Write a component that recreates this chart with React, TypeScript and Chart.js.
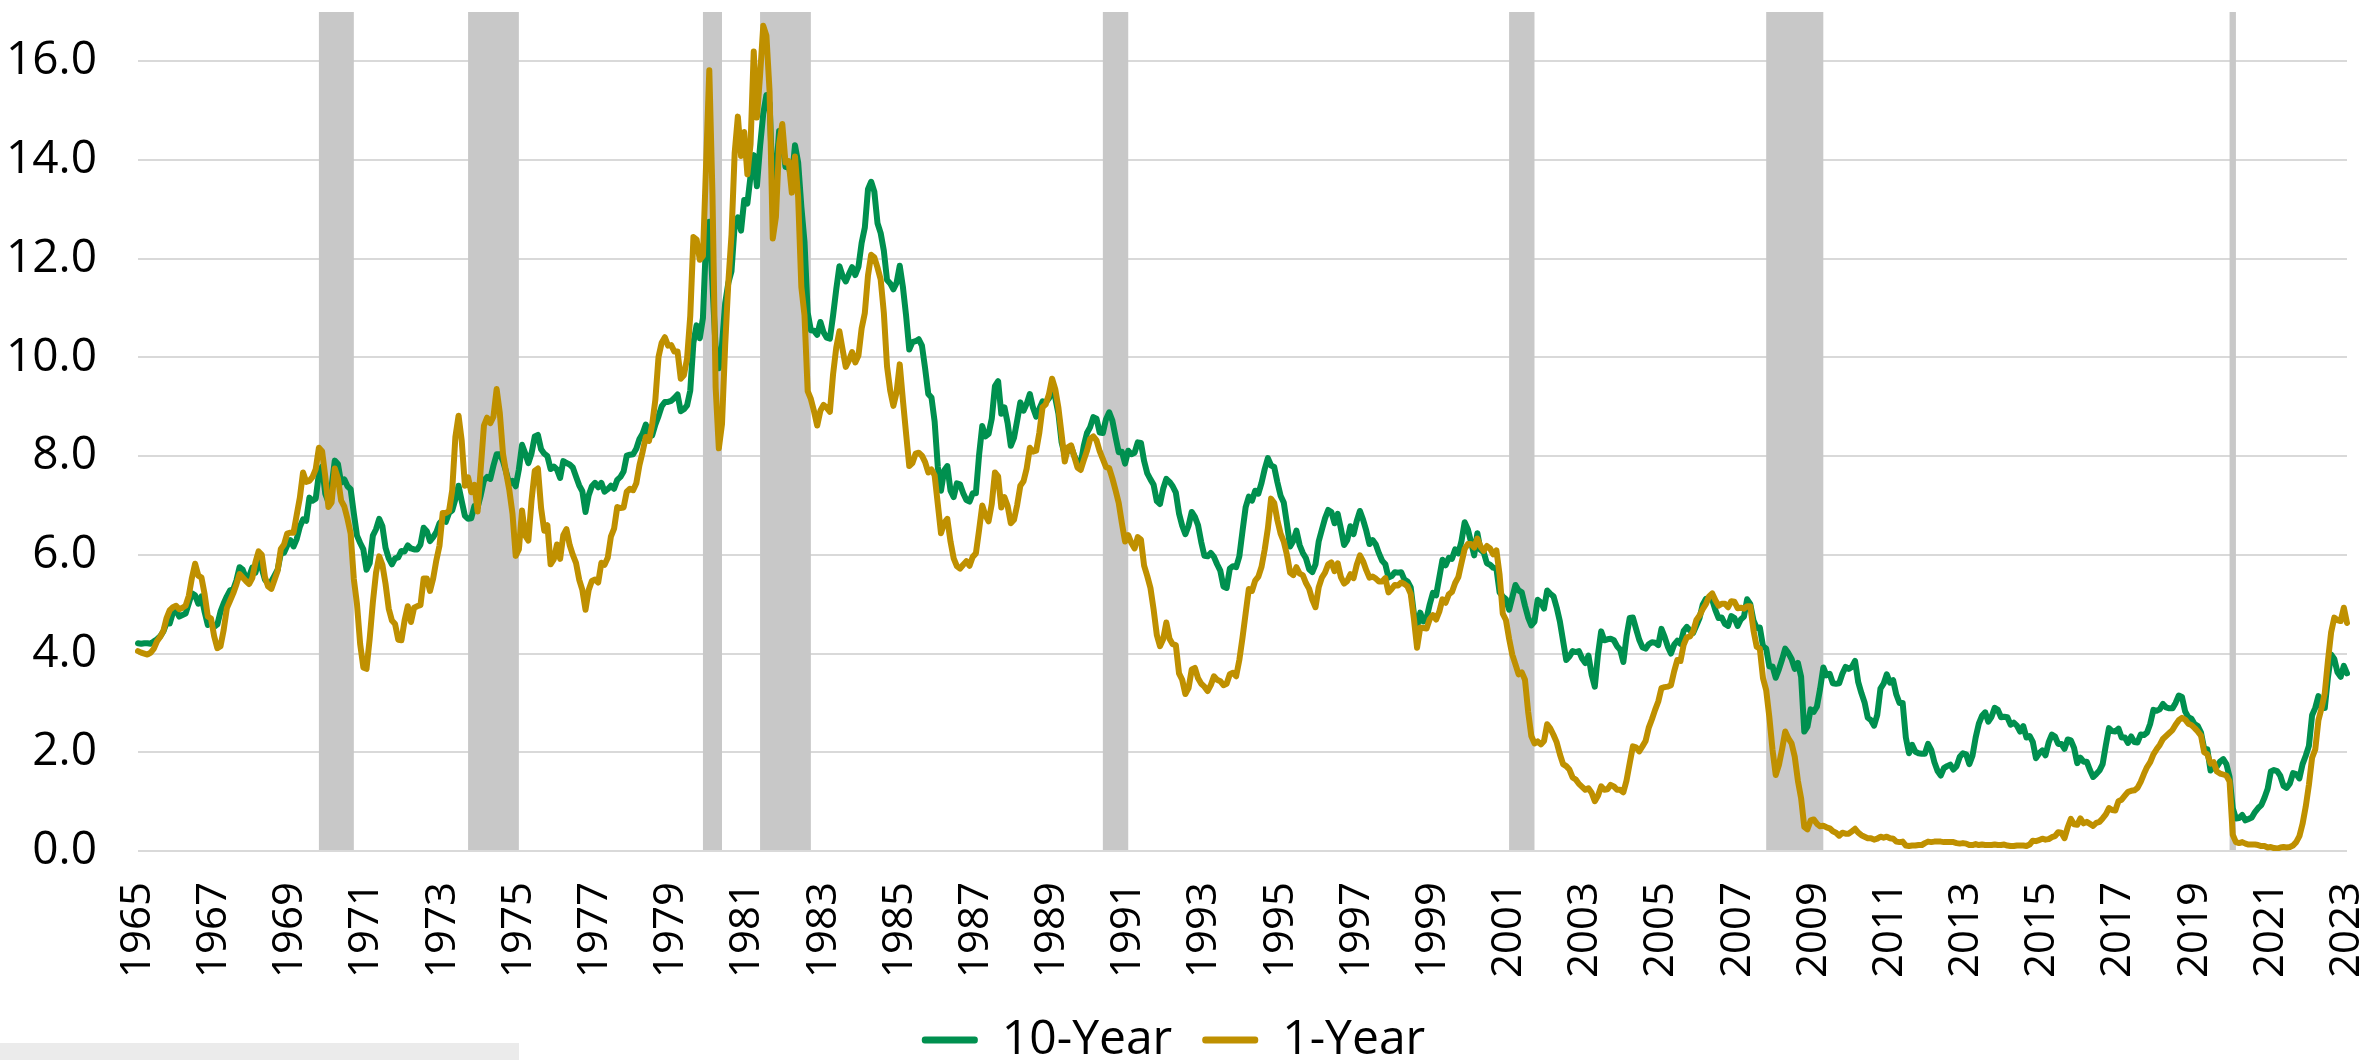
import React, { useEffect, useRef } from "react";
import { Chart, registerables } from "chart.js";

Chart.register(...registerables);

// Monthly series, March 1965 through March 2023
const START_YEAR = 1965;
const START_MONTH = 3;

const tenYear: number[] = [
  4.21, 4.20, 4.21, 4.21, 4.20, 4.25, 4.29, 4.35, 4.45, 4.62,
  4.61, 4.83, 4.87, 4.75, 4.78, 4.81, 5.02, 5.22, 5.18, 5.01, 5.16, 4.84,
  4.58, 4.63, 4.54, 4.59, 4.85, 5.02, 5.16, 5.28, 5.30, 5.48, 5.75, 5.70,
  5.53, 5.56, 5.74, 5.64, 5.87, 5.72, 5.50, 5.42, 5.46, 5.58, 5.70, 6.03,
  6.04, 6.19, 6.30, 6.17, 6.32, 6.57, 6.72, 6.69, 7.16, 7.10, 7.14, 7.65,
  7.79, 7.24, 7.07, 7.39, 7.91, 7.84, 7.46, 7.53, 7.39, 7.33, 6.84, 6.39,
  6.24, 6.11, 5.70, 5.83, 6.39, 6.52, 6.73, 6.58, 6.14, 5.93, 5.81, 5.93,
  5.95, 6.08, 6.07, 6.19, 6.13, 6.11, 6.11, 6.21, 6.55, 6.48, 6.28, 6.36,
  6.46, 6.64, 6.71, 6.67, 6.85, 6.90, 7.13, 7.40, 7.09, 6.79, 6.73, 6.74,
  6.99, 6.96, 7.21, 7.51, 7.58, 7.54, 7.81, 8.04, 8.04, 7.90, 7.68, 7.43,
  7.50, 7.39, 7.73, 8.23, 8.06, 7.86, 8.06, 8.40, 8.43, 8.14, 8.05, 8.00,
  7.74, 7.79, 7.73, 7.56, 7.90, 7.86, 7.83, 7.77, 7.59, 7.41, 7.29, 6.87,
  7.21, 7.39, 7.46, 7.37, 7.46, 7.28, 7.33, 7.40, 7.34, 7.52, 7.58, 7.69,
  8.01, 8.03, 8.04, 8.15, 8.35, 8.46, 8.64, 8.41, 8.42, 8.64, 8.81, 9.01,
  9.10, 9.10, 9.12, 9.18, 9.25, 8.91, 8.95, 9.03, 9.33, 10.30, 10.65, 10.39,
  10.80, 12.41, 12.75, 11.47, 10.18, 9.78, 10.25, 11.10, 11.51, 11.75, 12.68, 12.84,
  12.57, 13.19, 13.12, 13.68, 14.10, 13.47, 14.28, 14.94, 15.32, 15.15, 13.39, 13.72,
  14.59, 14.43, 13.86, 13.87, 13.62, 14.30, 13.95, 13.06, 12.34, 10.91, 10.55, 10.54,
  10.46, 10.72, 10.51, 10.40, 10.38, 10.85, 11.38, 11.85, 11.65, 11.54, 11.69, 11.83,
  11.67, 11.84, 12.32, 12.63, 13.41, 13.56, 13.36, 12.72, 12.52, 12.16, 11.57, 11.50,
  11.38, 11.51, 11.86, 11.43, 10.85, 10.16, 10.31, 10.33, 10.37, 10.24, 9.78, 9.26,
  9.19, 8.70, 7.78, 7.30, 7.71, 7.80, 7.30, 7.17, 7.45, 7.43, 7.25, 7.11,
  7.08, 7.25, 7.25, 8.02, 8.61, 8.40, 8.45, 8.76, 9.42, 9.52, 8.86, 8.99,
  8.67, 8.21, 8.37, 8.72, 9.09, 8.92, 9.06, 9.26, 8.98, 8.80, 8.96, 9.11,
  9.09, 9.17, 9.36, 9.18, 8.86, 8.28, 8.02, 8.11, 8.19, 8.01, 7.87, 7.84,
  8.21, 8.47, 8.59, 8.79, 8.76, 8.48, 8.47, 8.75, 8.89, 8.72, 8.39, 8.08,
  8.09, 7.85, 8.11, 8.04, 8.07, 8.28, 8.27, 7.90, 7.65, 7.53, 7.42, 7.09,
  7.03, 7.34, 7.54, 7.48, 7.39, 7.26, 6.84, 6.59, 6.42, 6.59, 6.87, 6.77,
  6.60, 6.26, 5.98, 5.97, 6.04, 5.96, 5.81, 5.68, 5.36, 5.33, 5.72, 5.77,
  5.75, 5.97, 6.48, 6.97, 7.18, 7.10, 7.30, 7.24, 7.46, 7.74, 7.96, 7.81,
  7.78, 7.47, 7.20, 7.06, 6.63, 6.17, 6.28, 6.49, 6.20, 6.04, 5.93, 5.71,
  5.65, 5.81, 6.27, 6.51, 6.74, 6.91, 6.87, 6.64, 6.83, 6.53, 6.20, 6.30,
  6.58, 6.42, 6.69, 6.89, 6.71, 6.49, 6.22, 6.30, 6.21, 6.03, 5.88, 5.81,
  5.54, 5.57, 5.65, 5.64, 5.65, 5.50, 5.46, 5.34, 4.81, 4.53, 4.83, 4.65,
  4.72, 5.00, 5.23, 5.18, 5.54, 5.90, 5.79, 5.94, 5.92, 6.11, 6.03, 6.28,
  6.66, 6.52, 6.26, 5.99, 6.44, 6.10, 6.05, 5.83, 5.80, 5.74, 5.72, 5.24,
  5.16, 5.10, 4.89, 5.14, 5.39, 5.28, 5.24, 4.97, 4.73, 4.57, 4.65, 5.09,
  5.04, 4.91, 5.28, 5.21, 5.16, 4.93, 4.65, 4.26, 3.87, 3.94, 4.05, 4.03,
  4.05, 3.90, 3.81, 3.96, 3.57, 3.33, 3.98, 4.45, 4.27, 4.29, 4.30, 4.27,
  4.15, 4.08, 3.83, 4.35, 4.72, 4.73, 4.50, 4.28, 4.13, 4.10, 4.19, 4.23,
  4.22, 4.17, 4.50, 4.34, 4.14, 4.00, 4.18, 4.26, 4.20, 4.46, 4.54, 4.47,
  4.42, 4.57, 4.72, 4.99, 5.11, 5.11, 5.09, 4.88, 4.72, 4.73, 4.60, 4.56,
  4.76, 4.72, 4.56, 4.69, 4.75, 5.10, 5.00, 4.67, 4.52, 4.53, 4.15, 4.10,
  3.74, 3.74, 3.51, 3.68, 3.88, 4.10, 4.01, 3.89, 3.69, 3.81, 3.53, 2.42,
  2.52, 2.87, 2.82, 2.93, 3.29, 3.72, 3.56, 3.59, 3.40, 3.39, 3.40, 3.59,
  3.73, 3.69, 3.73, 3.85, 3.42, 3.20, 3.01, 2.70, 2.65, 2.54, 2.76, 3.29,
  3.39, 3.58, 3.41, 3.46, 3.17, 3.00, 3.00, 2.30, 1.98, 2.15, 2.01, 1.98,
  1.97, 1.97, 2.17, 2.05, 1.80, 1.62, 1.53, 1.68, 1.72, 1.75, 1.65, 1.72,
  1.91, 1.98, 1.96, 1.76, 1.93, 2.30, 2.58, 2.74, 2.81, 2.62, 2.72, 2.90,
  2.86, 2.71, 2.72, 2.71, 2.56, 2.60, 2.54, 2.42, 2.53, 2.30, 2.33, 2.21,
  1.88, 1.98, 2.04, 1.94, 2.20, 2.36, 2.32, 2.17, 2.17, 2.07, 2.26, 2.24,
  2.09, 1.78, 1.89, 1.81, 1.81, 1.64, 1.50, 1.56, 1.63, 1.76, 2.14, 2.49,
  2.43, 2.42, 2.48, 2.30, 2.30, 2.19, 2.32, 2.21, 2.20, 2.36, 2.35, 2.40,
  2.58, 2.86, 2.84, 2.87, 2.98, 2.91, 2.89, 2.89, 3.00, 3.15, 3.12, 2.83,
  2.71, 2.68, 2.57, 2.53, 2.40, 2.07, 2.06, 1.63, 1.70, 1.71, 1.81, 1.86,
  1.76, 1.50, 0.87, 0.66, 0.67, 0.73, 0.62, 0.65, 0.68, 0.79, 0.87, 0.93,
  1.08, 1.26, 1.61, 1.64, 1.62, 1.52, 1.32, 1.28, 1.37, 1.58, 1.56, 1.47,
  1.76, 1.93, 2.13, 2.75, 2.90, 3.14, 2.90, 2.90, 3.52, 3.98, 3.89, 3.62,
  3.53, 3.75, 3.60,
];

const oneYear: number[] = [
  4.05, 4.02, 4.00, 3.98, 4.02, 4.10, 4.25, 4.34, 4.46, 4.72,
  4.88, 4.94, 4.97, 4.90, 4.93, 4.97, 5.17, 5.54, 5.82, 5.58, 5.54, 5.20,
  4.75, 4.71, 4.35, 4.11, 4.15, 4.48, 4.92, 5.07, 5.22, 5.40, 5.61, 5.54,
  5.47, 5.41, 5.53, 5.85, 6.07, 6.00, 5.55, 5.36, 5.31, 5.49, 5.68, 6.12,
  6.21, 6.43, 6.45, 6.45, 6.81, 7.16, 7.67, 7.48, 7.50, 7.58, 7.74, 8.17,
  8.10, 7.59, 6.97, 7.06, 7.75, 7.55, 7.10, 6.98, 6.73, 6.43, 5.51, 5.00,
  4.19, 3.72, 3.69, 4.30, 5.04, 5.64, 5.97, 5.80, 5.41, 4.91, 4.67, 4.60,
  4.28, 4.27, 4.67, 4.96, 4.64, 4.93, 4.96, 4.98, 5.52, 5.52, 5.27, 5.52,
  5.89, 6.19, 6.85, 6.85, 6.89, 7.31, 8.39, 8.82, 8.31, 7.40, 7.57, 7.27,
  7.42, 6.88, 7.76, 8.62, 8.78, 8.67, 8.80, 9.36, 8.87, 8.05, 7.66, 7.31,
  6.83, 5.98, 6.11, 6.90, 6.39, 6.29, 7.11, 7.70, 7.75, 6.95, 6.49, 6.60,
  5.81, 5.91, 6.21, 5.92, 6.40, 6.52, 6.20, 6.00, 5.84, 5.50, 5.29, 4.89,
  5.29, 5.47, 5.50, 5.44, 5.84, 5.80, 5.94, 6.37, 6.53, 6.97, 6.95, 6.96,
  7.28, 7.34, 7.31, 7.45, 7.82, 8.09, 8.39, 8.31, 8.64, 9.14, 10.01, 10.30,
  10.41, 10.24, 10.25, 10.12, 10.12, 9.57, 9.64, 9.98, 10.84, 12.44, 12.39, 11.98,
  12.06, 13.92, 15.82, 13.30, 9.39, 8.16, 8.65, 10.24, 11.52, 12.49, 14.15, 14.88,
  14.08, 14.57, 13.71, 14.32, 16.20, 14.86, 15.72, 16.72, 16.52, 15.38, 12.41, 12.85,
  14.32, 14.73, 13.95, 13.98, 13.34, 14.07, 13.24, 11.43, 10.85, 9.32, 9.16, 8.91,
  8.62, 8.92, 9.04, 8.98, 8.90, 9.66, 10.20, 10.53, 10.16, 9.81, 9.94, 10.11,
  9.90, 10.04, 10.59, 10.90, 11.66, 12.08, 12.03, 11.82, 11.58, 10.90, 9.82, 9.33,
  9.02, 9.29, 9.86, 9.14, 8.46, 7.80, 7.86, 8.05, 8.07, 8.01, 7.88, 7.67,
  7.73, 7.61, 7.03, 6.44, 6.65, 6.73, 6.27, 5.93, 5.77, 5.72, 5.80, 5.87,
  5.78, 5.96, 6.03, 6.50, 7.00, 6.80, 6.68, 7.03, 7.67, 7.59, 6.96, 7.17,
  6.99, 6.64, 6.71, 7.01, 7.40, 7.49, 7.75, 8.17, 8.09, 8.11, 8.48, 8.99,
  9.05, 9.25, 9.57, 9.36, 8.98, 8.44, 7.89, 8.18, 8.22, 7.99, 7.77, 7.72,
  7.92, 8.11, 8.35, 8.40, 8.32, 8.10, 7.94, 7.78, 7.76, 7.55, 7.31, 7.05,
  6.64, 6.27, 6.40, 6.24, 6.13, 6.36, 6.31, 5.78, 5.57, 5.33, 4.89, 4.38,
  4.15, 4.29, 4.63, 4.30, 4.19, 4.17, 3.60, 3.47, 3.18, 3.30, 3.68, 3.71,
  3.50, 3.39, 3.33, 3.24, 3.36, 3.54, 3.47, 3.44, 3.36, 3.39, 3.58, 3.61,
  3.54, 3.87, 4.32, 4.82, 5.31, 5.27, 5.48, 5.56, 5.76, 6.11, 6.54, 7.14,
  7.05, 6.70, 6.43, 6.27, 6.00, 5.64, 5.59, 5.75, 5.62, 5.59, 5.43, 5.31,
  5.09, 4.94, 5.34, 5.54, 5.64, 5.81, 5.85, 5.67, 5.83, 5.55, 5.42, 5.47,
  5.61, 5.53, 5.80, 5.99, 5.87, 5.69, 5.54, 5.56, 5.52, 5.46, 5.46, 5.53,
  5.24, 5.31, 5.39, 5.38, 5.44, 5.41, 5.36, 5.21, 4.71, 4.12, 4.53, 4.52,
  4.51, 4.70, 4.78, 4.69, 4.85, 5.10, 5.03, 5.20, 5.25, 5.43, 5.55, 5.84,
  6.12, 6.22, 6.22, 6.15, 6.33, 6.17, 6.08, 6.18, 6.13, 6.01, 6.09, 5.60,
  4.81, 4.68, 4.30, 3.98, 3.78, 3.58, 3.62, 3.47, 2.82, 2.33, 2.18, 2.22,
  2.16, 2.23, 2.57, 2.48, 2.35, 2.20, 1.96, 1.76, 1.72, 1.65, 1.49, 1.45,
  1.36, 1.30, 1.24, 1.27, 1.18, 1.01, 1.12, 1.31, 1.24, 1.25, 1.34, 1.31,
  1.24, 1.24, 1.19, 1.43, 1.78, 2.12, 2.10, 2.02, 2.12, 2.23, 2.50, 2.67,
  2.86, 3.03, 3.30, 3.32, 3.33, 3.36, 3.64, 3.87, 3.85, 4.18, 4.33, 4.35,
  4.45, 4.68, 4.77, 4.90, 5.00, 5.16, 5.22, 5.08, 4.97, 5.01, 5.01, 4.94,
  5.06, 5.05, 4.92, 4.93, 4.91, 4.96, 4.96, 4.47, 4.14, 4.10, 3.50, 3.26,
  2.71, 2.05, 1.54, 1.74, 2.06, 2.42, 2.28, 2.18, 1.91, 1.42, 1.07, 0.49,
  0.44, 0.62, 0.64, 0.55, 0.50, 0.51, 0.48, 0.46, 0.40, 0.37, 0.31, 0.37,
  0.35, 0.35, 0.40, 0.45, 0.37, 0.32, 0.29, 0.26, 0.26, 0.23, 0.25, 0.29,
  0.27, 0.29, 0.26, 0.25, 0.19, 0.18, 0.19, 0.11, 0.10, 0.11, 0.11, 0.12,
  0.12, 0.16, 0.19, 0.18, 0.19, 0.19, 0.19, 0.18, 0.18, 0.18, 0.18, 0.16,
  0.15, 0.16, 0.15, 0.12, 0.12, 0.14, 0.12, 0.13, 0.12, 0.12, 0.12, 0.13,
  0.12, 0.12, 0.13, 0.11, 0.10, 0.10, 0.11, 0.11, 0.11, 0.10, 0.13, 0.21,
  0.20, 0.22, 0.25, 0.23, 0.24, 0.28, 0.30, 0.38, 0.37, 0.26, 0.48, 0.65,
  0.54, 0.53, 0.66, 0.56, 0.59, 0.55, 0.51, 0.57, 0.59, 0.66, 0.74, 0.87,
  0.83, 0.82, 1.01, 1.04, 1.12, 1.20, 1.22, 1.23, 1.28, 1.40, 1.56, 1.70,
  1.80, 1.96, 2.06, 2.15, 2.27, 2.33, 2.39, 2.45, 2.56, 2.65, 2.70, 2.66,
  2.58, 2.55, 2.49, 2.42, 2.34, 2.00, 1.96, 1.77, 1.80, 1.61, 1.57, 1.55,
  1.53, 1.41, 0.33, 0.18, 0.16, 0.18, 0.15, 0.13, 0.13, 0.13, 0.12, 0.10,
  0.10, 0.07, 0.08, 0.06, 0.05, 0.07, 0.08, 0.07, 0.08, 0.11, 0.18, 0.30,
  0.55, 0.90, 1.34, 1.89, 2.06, 2.65, 2.90, 3.20, 3.86, 4.43, 4.73, 4.68,
  4.66, 4.93, 4.62,
];

const recessionStarts = ["1969-12", "1973-11", "1980-01", "1981-07", "1990-07", "2001-03", "2007-12", "2020-02"];
const recessionEnds = ["1970-11", "1975-03", "1980-07", "1982-11", "1991-03", "2001-11", "2009-06", "2020-04"];

const yTickValues = [0, 2, 4, 6, 8, 10, 12, 14, 16];
const Y_MAX = 17;
const LABEL_EVERY = 24;

const seriesNames = ["10-Year", "1-Year"];
const seriesColors = ["#00904f", "#bf9000"];

const months: string[] = tenYear.map((_, i) => {
  const m = START_MONTH - 1 + i;
  const y = START_YEAR + Math.floor(m / 12);
  const mm = (m % 12) + 1;
  return `${y}-${String(mm).padStart(2, "0")}`;
});

const FONT = "'Open Sans', 'DejaVu Sans', sans-serif";
const CANVAS_H = 1074;
const LEGEND_FONT = 48;
const LEGEND_PAD = 30;
const PLOT_BOTTOM = 851;
const legendHeight = LEGEND_FONT + LEGEND_PAD + 10;
const xAxisHeight = CANVAS_H - legendHeight - PLOT_BOTTOM;

const recessionPlugin = {
  id: "recessionShading",
  beforeDatasetsDraw(chart: any) {
    const { ctx, scales } = chart;
    const xs = scales.x;
    const ys = scales.y;
    ctx.save();
    ctx.fillStyle = "#c8c8c8";
    recessionStarts.forEach((s, k) => {
      const i0 = months.indexOf(s);
      const i1 = months.indexOf(recessionEnds[k]);
      if (i0 < 0 || i1 < 0) return;
      const x0 = xs.getPixelForValue(i0);
      const x1 = xs.getPixelForValue(i1);
      const yTop = ys.getPixelForValue(Y_MAX);
      const yBot = ys.getPixelForValue(0) - 1;
      ctx.fillRect(x0, yTop, x1 - x0, yBot - yTop);
    });
    ctx.restore();
  },
};

export default function App() {
  const canvasRef = useRef<HTMLCanvasElement | null>(null);

  useEffect(() => {
    if (!canvasRef.current) return;
    Chart.defaults.font.family = FONT;
    const lineStyle = {
      borderWidth: 6,
      pointRadius: 0,
      pointHoverRadius: 0,
      tension: 0,
      fill: false,
      borderJoinStyle: "round",
      borderCapStyle: "round",
    };
    const chart = new Chart(canvasRef.current, {
      type: "line",
      data: {
        labels: months,
        datasets: [
          {
            label: seriesNames[0],
            data: tenYear,
            borderColor: seriesColors[0],
            backgroundColor: seriesColors[0],
            order: 2,
            ...lineStyle,
          },
          {
            label: seriesNames[1],
            data: oneYear,
            borderColor: seriesColors[1],
            backgroundColor: seriesColors[1],
            order: 1,
            ...lineStyle,
          },
        ],
      },
      options: {
        animation: false,
        responsive: true,
        maintainAspectRatio: false,
        events: [],
        layout: { padding: { top: 12, right: 22, left: 0, bottom: 0 } },
        scales: {
          x: {
            type: "category",
            offset: false,
            grid: { display: false, drawTicks: false },
            border: { display: false },
            afterFit: (s: any) => {
              s.height = xAxisHeight;
              s.paddingLeft = 0;
              s.paddingRight = 0;
            },
            ticks: {
              autoSkip: false,
              maxRotation: 90,
              minRotation: 90,
              padding: 31,
              color: "#000",
              font: { family: FONT, size: 42 },
              callback: (_v: any, i: number) =>
                i % LABEL_EVERY === 0 ? months[i].slice(0, 4) : null,
            },
          },
          y: {
            min: 0,
            max: Y_MAX,
            afterBuildTicks: (axis: any) => {
              axis.ticks = yTickValues.map((v) => ({ value: v }));
            },
            afterFit: (s: any) => {
              s.width = 138;
              s.paddingTop = 0;
              s.paddingBottom = 0;
            },
            grid: { color: "#d9d9d9", lineWidth: 2, drawTicks: false },
            border: { display: false },
            ticks: {
              padding: 41,
              color: "#000",
              font: { family: FONT, size: 46 },
              callback: (v: any) => Number(v).toFixed(1),
            },
          },
        },
        plugins: {
          tooltip: { enabled: false },
          legend: {
            display: true,
            position: "bottom",
            labels: {
              color: "#000",
              font: { family: FONT, size: LEGEND_FONT },
              boxWidth: 56,
              boxHeight: 7,
              padding: LEGEND_PAD,
              useBorderRadius: true,
              borderRadius: 3,
              sort: (a: any, b: any) => a.datasetIndex - b.datasetIndex,
              generateLabels: (c: any) => {
                const items = (Chart.defaults.plugins.legend.labels as any).generateLabels(c);
                return items.map((it: any) => ({
                  ...it,
                  fillStyle: seriesColors[it.datasetIndex],
                  strokeStyle: seriesColors[it.datasetIndex],
                  lineWidth: 0,
                }));
              },
            },
          },
        },
      },
      plugins: [recessionPlugin],
    } as any);
    return () => chart.destroy();
  }, []);

  return (
    <>
      <div
        style={{
          position: "fixed",
          left: 0,
          top: 0,
          width: "2369px",
          height: `${CANVAS_H}px`,
          background: "#fff",
        }}
      >
        <canvas ref={canvasRef} />
      </div>
      <div
        style={{
          position: "fixed",
          left: 0,
          top: "1043px",
          width: "519px",
          height: "17px",
          background: "#ebebeb",
        }}
      />
    </>
  );
}
